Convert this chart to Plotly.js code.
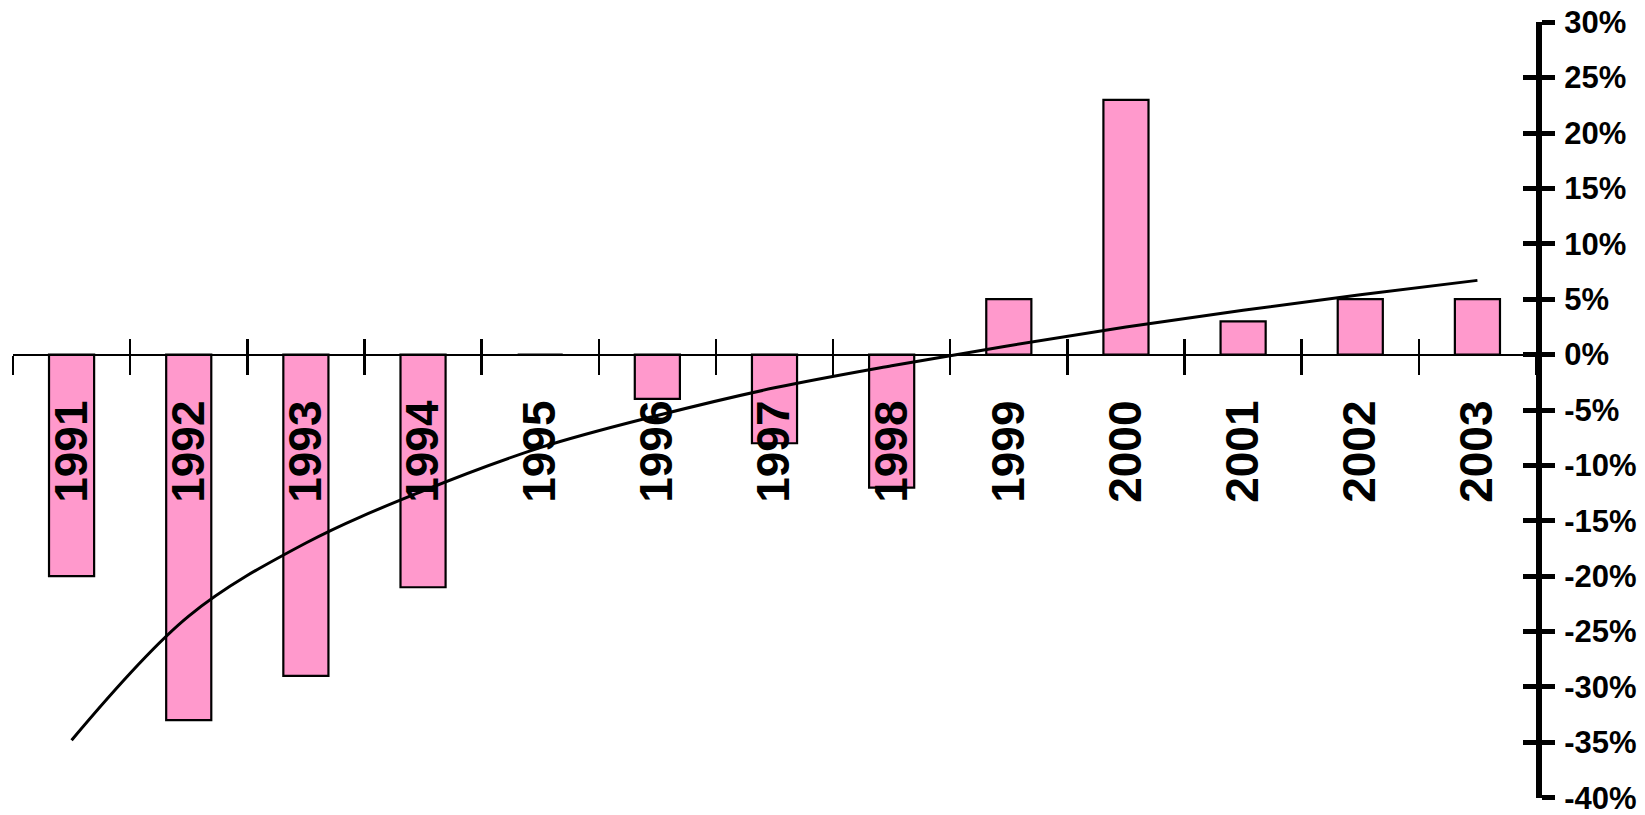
<!DOCTYPE html>
<html>
<head>
<meta charset="utf-8">
<script src="https://cdn.plot.ly/plotly-3.0.1.min.js"></script>
<style>html,body{margin:0;padding:0;background:#fff;}#chart{width:1645px;height:815px;}</style>
</head>
<body>
<div id="chart"></div>
<script>
// Data
var years = ["1991","1992","1993","1994","1995","1996","1997","1998","1999","2000","2001","2002","2003"];
var changePct = [-20, -33, -29, -21, 0, -4, -8, -12, 5, 23, 3, 5, 5];
var trendPct = [-34.8, -23.6, -17.0, -12.3, -8.4, -5.5, -3.0, -1.0, 0.8, 2.5, 4.0, 5.4, 6.7];
var yTickVals = [-40, -35, -30, -25, -20, -15, -10, -5, 0, 5, 10, 15, 20, 25, 30];
var yTickText = ["-40%","-35%","-30%","-25%","-20%","-15%","-10%","-5%","0%","5%","10%","15%","20%","25%","30%"];

var yMin = -40.02, yMax = 30.02;
var zeroPos = (0 - yMin) / (yMax - yMin);
var xRange = [-0.5, years.length - 0.5];

var traces = [
  {
    type: 'bar', x: years, y: changePct,
    marker: {color: '#ff99cc', line: {color: '#000', width: 2.2}},
    width: 0.385, hoverinfo: 'x+y', showlegend: false
  },
  {
    type: 'scatter', mode: 'lines', x: years, y: trendPct,
    line: {color: '#000', width: 3, shape: 'spline', smoothing: 1},
    hoverinfo: 'skip', showlegend: false
  },
  {
    type: 'scatter', mode: 'none', x: years, y: changePct,
    xaxis: 'x2', yaxis: 'y2', hoverinfo: 'skip', showlegend: false
  }
];

var fam = 'Liberation Sans, Arial, sans-serif';

var layout = {
  width: 1645, height: 815,
  margin: {l: 13, r: 109, t: 22, b: 17},
  paper_bgcolor: '#fff', plot_bgcolor: '#fff',
  showlegend: false,
  bargap: 0,
  xaxis: {
    type: 'category', range: xRange,
    anchor: 'free', position: zeroPos,
    showline: true, linecolor: '#000', linewidth: 2.5,
    ticks: 'outside', ticklen: 19, tickwidth: 2.5, tickcolor: '#000',
    tickson: 'boundaries',
    tickangle: -90,
    tickfont: {family: fam, color: '#000', size: 46, weight: 'bold'},
    ticklabelstandoff: 26,
    ticklabeloverflow: 'allow',
    showgrid: false, zeroline: false, automargin: false, fixedrange: true
  },
  xaxis2: {
    type: 'category', range: xRange, overlaying: 'x',
    anchor: 'free', position: zeroPos, side: 'bottom',
    showline: false,
    ticks: 'inside', ticklen: 16, tickwidth: 2.5, tickcolor: '#000',
    tickson: 'boundaries', showticklabels: false,
    showgrid: false, zeroline: false, automargin: false, fixedrange: true
  },
  yaxis: {
    range: [yMin, yMax], side: 'right', anchor: 'x',
    showline: true, linecolor: '#000', linewidth: 6,
    ticks: 'outside', ticklen: 13, tickwidth: 5, tickcolor: '#000',
    tickmode: 'array', tickvals: yTickVals, ticktext: yTickText,
    tickfont: {family: fam, color: '#000', size: 31, weight: 'bold'},
    ticklabelstandoff: 3,
    ticklabeloverflow: 'allow',
    showgrid: false, zeroline: false, automargin: false, fixedrange: true
  },
  yaxis2: {
    range: [yMin, yMax], overlaying: 'y', side: 'right',
    anchor: 'free', position: 1,
    showline: false,
    ticks: 'inside', ticklen: 13, tickwidth: 5, tickcolor: '#000',
    tickmode: 'array', tickvals: yTickVals, showticklabels: false,
    showgrid: false, zeroline: false, automargin: false, fixedrange: true
  }
};

Plotly.newPlot('chart', traces, layout, {displayModeBar: false, staticPlot: true});
</script>
</body>
</html>
